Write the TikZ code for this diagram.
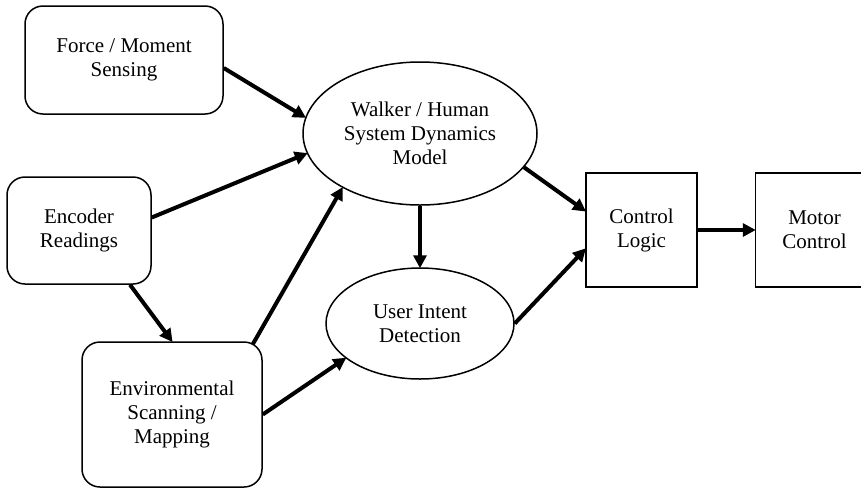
\documentclass[tikz,border=0pt]{standalone}
\usepackage{fontspec}
\setmainfont{Liberation Serif}
\usetikzlibrary{positioning, shapes.geometric, arrows.meta}

\begin{document}
\begin{tikzpicture}[x=1pt, y=-1pt]
    \tikzstyle{block} = [rectangle, rounded corners=18pt, align=center, draw=black, line width=1.5pt, inner sep=0pt, font=\fontsize{21}{24}\selectfont]
    \tikzstyle{oval} = [ellipse, align=center, draw=black, line width=1.5pt, inner sep=0pt, font=\fontsize{21}{24}\selectfont]
    \tikzstyle{box} = [rectangle, align=center, draw=black, line width=1.5pt, inner sep=0pt, minimum width=111pt, minimum height=114pt, font=\fontsize{21}{24}\selectfont]
    \tikzstyle{link} = [line width=4pt, -{Triangle[length=13pt, width=13pt]}, shorten >=-1pt]
    \useasboundingbox (0,0) rectangle (861,488);

    \node (force) [block, minimum width=198pt, minimum height=108pt] at (124,60) {Force / Moment\\Sensing};
    \node (encoder) [block, minimum width=144pt, minimum height=107pt] at (79,230.5) {Encoder\\Readings};
    \node (env) [block, minimum width=180pt, minimum height=145pt] at (172,414.5) {Environmental\\Scanning /\\Mapping};
    \node (walker) [oval, minimum width=234pt, minimum height=143pt] at (420,133.5) {Walker / Human\\System Dynamics\\Model};
    \node (intent) [oval, minimum width=188pt, minimum height=111pt] at (420,323.5) {User Intent\\Detection};
    \node (logic) [box] at (641.5,230) {Control\\Logic};
    \node (motor) [box, minimum width=118pt, right = 57pt of logic.east, anchor=west] {Motor\\Control};

    \draw [link] ([yshift=-8pt]force.east) -- (walker.172);
    \draw [link] ([yshift=13pt]encoder.east) -- (walker.190);
    \draw [link] ([xshift=51pt]encoder.south) -- (env.north);
    \draw [link] ([xshift=-10pt, yshift=-3pt]env.north east) -- (walker.215);
    \draw [link] (walker.south) -- (intent.north);
    \draw [link] (env.east) -- (intent.205);
    \draw [link] (walker.-18) -- ([yshift=19pt]logic.west);
    \draw [link] (intent.east) -- ([yshift=-19pt]logic.west);
    \draw [link] (logic.east) -- (motor.west);
\end{tikzpicture}
\end{document}
